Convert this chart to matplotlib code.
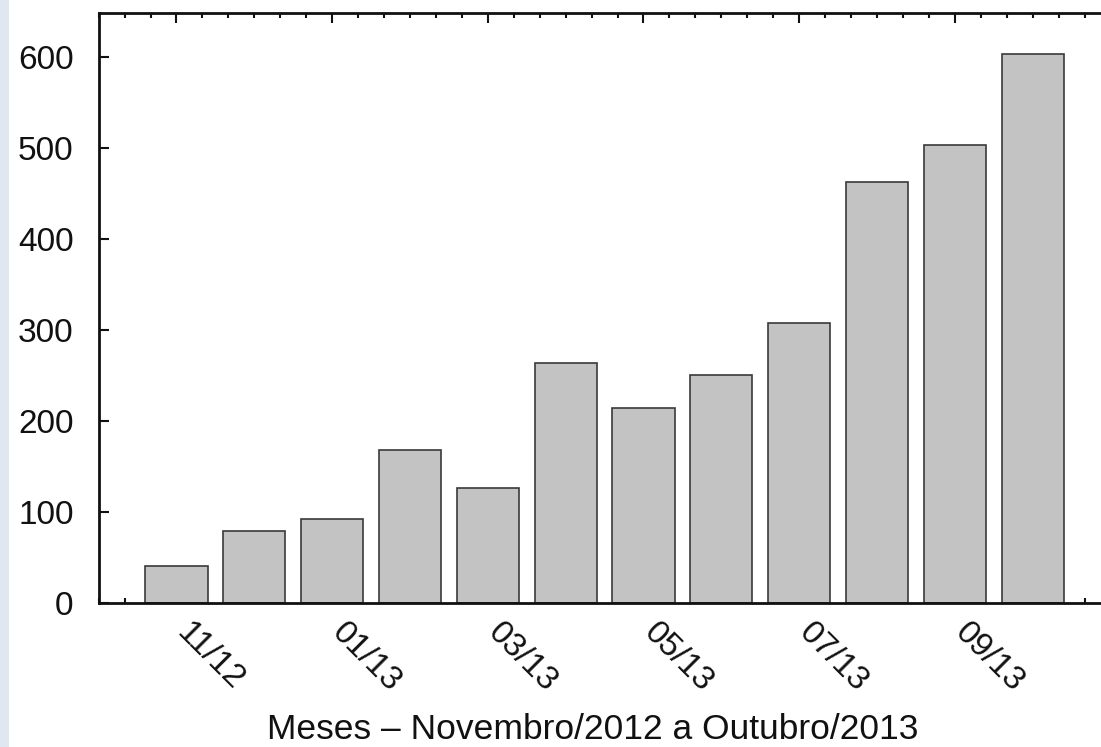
import matplotlib
matplotlib.use('Agg')
import matplotlib.pyplot as plt
from matplotlib.patches import Rectangle
from matplotlib.ticker import MultipleLocator
from matplotlib.transforms import ScaledTranslation

plt.rcParams['font.family'] = ['Liberation Sans', 'DejaVu Sans']

# monthly counts, Nov/2012 .. Oct/2013
months = ['11/12', '12/12', '01/13', '02/13', '03/13', '04/13',
          '05/13', '06/13', '07/13', '08/13', '09/13', '10/13']
values = [41, 79, 93, 168, 127, 264, 215, 251, 308, 463, 503, 603]
shown_labels = months[::2]

fig = plt.figure(figsize=(11.01, 7.47), dpi=100)
# light blue strip on the left edge of the slide
fig.patches.append(Rectangle((0, 0), 9 / 1101, 1, transform=fig.transFigure,
                             facecolor='#dfe7f1', edgecolor='none', zorder=0))

# axes run past the right edge (cropped like the original)
ax = fig.add_axes([0.0896, 0.1924, 0.919, 0.7898])
x = list(range(len(values)))
ax.bar(x, values, width=0.8, color='#c3c3c3', edgecolor='#3a3a3a', linewidth=1.2, zorder=2)

ax.set_xlim(-1, 12)
ax.set_ylim(0, 648)
ax.set_axisbelow(True)

ax.set_yticks(range(0, 601, 100))
ax.set_xticks(x[::2])
ax.set_xticklabels(shown_labels, rotation=-45, ha='left', va='top',
                   rotation_mode='anchor')
ax.xaxis.set_minor_locator(MultipleLocator(1 / 3))

ax.tick_params(which='both', direction='in', top=True, right=False,
               colors='#111111', width=1.5)
ax.tick_params(which='major', length=7.5)
ax.tick_params(which='minor', length=3.5)
ax.tick_params(axis='y', pad=18, labelsize=24)
ax.tick_params(axis='x', pad=10, labelsize=24)

# nudge rotated month labels to the right, as in the original
shift = ScaledTranslation(16 / 100, 0, fig.dpi_scale_trans)
for lab in ax.get_xticklabels():
    lab.set_transform(lab.get_transform() + shift)

for s in ax.spines.values():
    s.set_linewidth(2)
    s.set_color('#111111')

ax.set_xlabel('Meses \u2013 Novembro/2012 a Outubro/2013', fontsize=25.5,
              color='#111111', va='baseline')
ax.xaxis.set_label_coords(0.4886, -0.2300)

fig.savefig('out.png', dpi=100)
